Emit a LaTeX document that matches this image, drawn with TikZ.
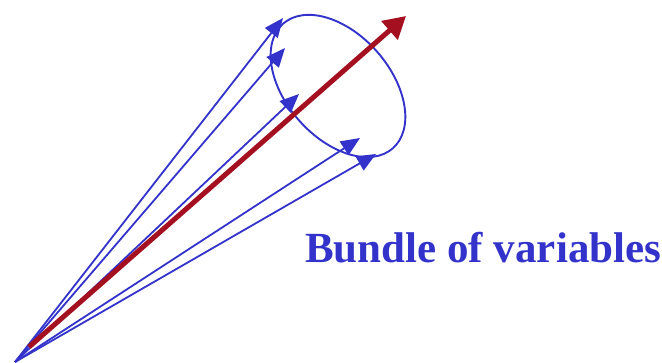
\documentclass[tikz,border=0pt]{standalone}
\usepackage{fontspec}
\setmainfont{Liberation Serif}
\usetikzlibrary{arrows.meta}
\definecolor{vblue}{RGB}{51,51,204}
\definecolor{vred}{RGB}{165,16,32}
\tikzset{
  vec/.style={draw=vblue, line width=1.8pt, -{Triangle[length=19pt,width=16pt]}},
  mainvec/.style={draw=vred, line width=5pt, -{Triangle[length=22pt,width=24pt]}},
  loop/.style={draw=vblue, line width=1.9pt},
  lbl/.style={text=vblue, font=\bfseries\fontsize{43}{48}\selectfont, inner sep=0pt, anchor=base west}
}
\begin{document}
\begin{tikzpicture}[x=1pt,y=-1pt]
\useasboundingbox (0,0) rectangle (662,363);
\coordinate (o) at (15,362);
\coordinate (r0) at (29,347);
\coordinate (r1) at (406,16);
\coordinate (t1) at (283,18);
\coordinate (t2) at (285,48);
\coordinate (t3) at (299,94);
\coordinate (t4) at (360,138);
\coordinate (t5) at (376,154);
\coordinate (c) at (338,86);
\draw[loop, rotate around={-48.6:(c)}] (c) ellipse [x radius=83pt, y radius=52pt];
\foreach \t in {t1,t2,t3,t4,t5} \draw[vec] (o) -- (\t);
\draw[mainvec] (r0) -- (r1);
\node[lbl] (label) at (305,263) {Bundle of variables};
\end{tikzpicture}
\end{document}
